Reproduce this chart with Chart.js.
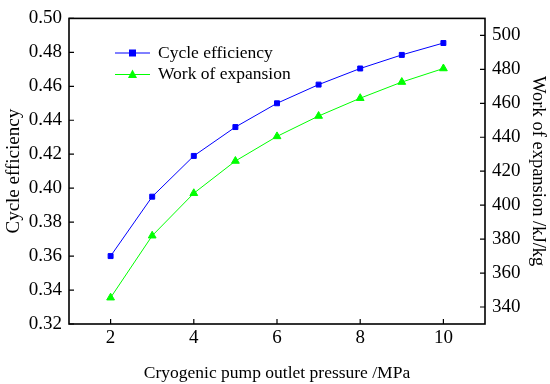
<!DOCTYPE html>
<html>
<head>
<meta charset="utf-8">
<script src="https://cdn.jsdelivr.net/npm/chart.js"></script>
<style>
  html, body { margin: 0; padding: 0; background: #fff; }
  #wrap { width: 550px; height: 384px; }
</style>
</head>
<body>
<div id="wrap"><canvas id="c" width="550" height="384"></canvas></div>
<script>
// pressure (MPa)
const pressure = [2, 3, 4, 5, 6, 7, 8, 9, 10];
// cycle efficiency (left axis)
const efficiency = [0.360, 0.395, 0.419, 0.436, 0.450, 0.461, 0.4705, 0.4785, 0.4855];
// work of expansion kJ/kg (right axis)
const work = [345.5, 382, 407, 426, 440.5, 452.5, 463, 472.5, 480.5];

const xTicks = [2, 4, 6, 8, 10];
const leftTicks = [0.32, 0.34, 0.36, 0.38, 0.40, 0.42, 0.44, 0.46, 0.48, 0.50];
const rightTicks = [340, 360, 380, 400, 420, 440, 460, 480, 500];

const FONT = "'Liberation Serif', 'DejaVu Serif', serif";

// draws the frame, inward tick marks and the legend
const framePlugin = {
  id: 'frame',
  afterDraw(chart) {
    const ctx = chart.ctx;
    const a = chart.chartArea;
    ctx.save();
    ctx.strokeStyle = '#000';
    ctx.lineWidth = 1.6;
    ctx.strokeRect(a.left, a.top, a.right - a.left, a.bottom - a.top);
    ctx.lineWidth = 1.2;
    const len = 5;
    const sx = chart.scales.x, sy = chart.scales.y, sy2 = chart.scales.y2;
    ctx.beginPath();
    xTicks.forEach(v => {
      const p = sx.getPixelForValue(v);
      ctx.moveTo(p, a.bottom); ctx.lineTo(p, a.bottom - len);
    });
    leftTicks.forEach(v => {
      const p = sy.getPixelForValue(v);
      ctx.moveTo(a.left, p); ctx.lineTo(a.left + len, p);
    });
    rightTicks.forEach(v => {
      const p = sy2.getPixelForValue(v);
      ctx.moveTo(a.right, p); ctx.lineTo(a.right - len, p);
    });
    ctx.stroke();

    // legend
    ctx.font = '17.5px ' + FONT;
    ctx.textBaseline = 'middle';
    chart.data.datasets.forEach((ds, i) => {
      const y = 53 + i * 21.5;
      const x0 = 115, x1 = 150;
      ctx.strokeStyle = ds.borderColor;
      ctx.lineWidth = 1;
      ctx.beginPath(); ctx.moveTo(x0, y); ctx.lineTo(x1, y); ctx.stroke();
      ctx.fillStyle = ds.backgroundColor;
      const cx = (x0 + x1) / 2;
      if (ds.pointStyle === 'rect') {
        ctx.fillRect(cx - 3.5, y - 3.5, 7, 7);
      } else {
        ctx.beginPath();
        ctx.moveTo(cx, y - 5); ctx.lineTo(cx + 4.5, y + 3.5); ctx.lineTo(cx - 4.5, y + 3.5);
        ctx.closePath(); ctx.fill();
      }
      ctx.fillStyle = '#000';
      ctx.fillText(ds.label, 158, y);
    });
    ctx.restore();
  }
};

new Chart(document.getElementById('c'), {
  type: 'line',
  data: {
    datasets: [
      {
        label: 'Cycle efficiency',
        data: pressure.map((p, i) => ({ x: p, y: efficiency[i] })),
        borderColor: '#0000ff',
        backgroundColor: '#0000ff',
        borderWidth: 1,
        pointStyle: 'rect',
        pointRadius: 3.5,
        yAxisID: 'y'
      },
      {
        label: 'Work of expansion',
        data: pressure.map((p, i) => ({ x: p, y: work[i] })),
        borderColor: '#00ff00',
        backgroundColor: '#00ff00',
        borderWidth: 1,
        pointStyle: 'triangle',
        pointRadius: 4.5,
        yAxisID: 'y2'
      }
    ]
  },
  options: {
    responsive: false,
    animation: false,
    layout: { padding: { top: 13, right: 0, bottom: 0, left: 0 } },
    plugins: { legend: { display: false }, tooltip: { enabled: false } },
    scales: {
      x: {
        type: 'linear',
        min: 1, max: 11,
        afterBuildTicks: s => { s.ticks = xTicks.map(v => ({ value: v })); },
        afterFit: s => { s.height = 60; },
        grid: { display: false, drawTicks: false },
        border: { display: false },
        ticks: { color: '#000', font: { family: FONT, size: 19 }, padding: 3 },
        title: { display: true, text: 'Cryogenic pump outlet pressure /MPa', color: '#000',
                 font: { family: FONT, size: 17.5 }, padding: { top: 0, bottom: 0.5 } }
      },
      y: {
        position: 'left',
        min: 0.32, max: 0.50,
        afterBuildTicks: s => { s.ticks = leftTicks.map(v => ({ value: v })); },
        afterFit: s => { s.width = 69; },
        grid: { display: false, drawTicks: false },
        border: { display: false },
        ticks: { color: '#000', font: { family: FONT, size: 19 }, padding: 7,
                 callback: v => v.toFixed(2) },
        title: { display: true, text: 'Cycle efficiency', color: '#000',
                 font: { family: FONT, size: 19 }, padding: { top: 2.5, bottom: 0 } }
      },
      y2: {
        position: 'right',
        min: 330, max: 510,
        afterBuildTicks: s => { s.ticks = rightTicks.map(v => ({ value: v })); },
        afterFit: s => { s.width = 65; },
        grid: { display: false, drawTicks: false },
        border: { display: false },
        ticks: { color: '#000', font: { family: FONT, size: 19 }, padding: 7 },
        title: { display: true, text: 'Work of expansion /kJ/kg', color: '#000',
                 font: { family: FONT, size: 18.5 }, padding: { top: 1, bottom: 0 } }
      }
    }
  },
  plugins: [framePlugin]
});
</script>
</body>
</html>
